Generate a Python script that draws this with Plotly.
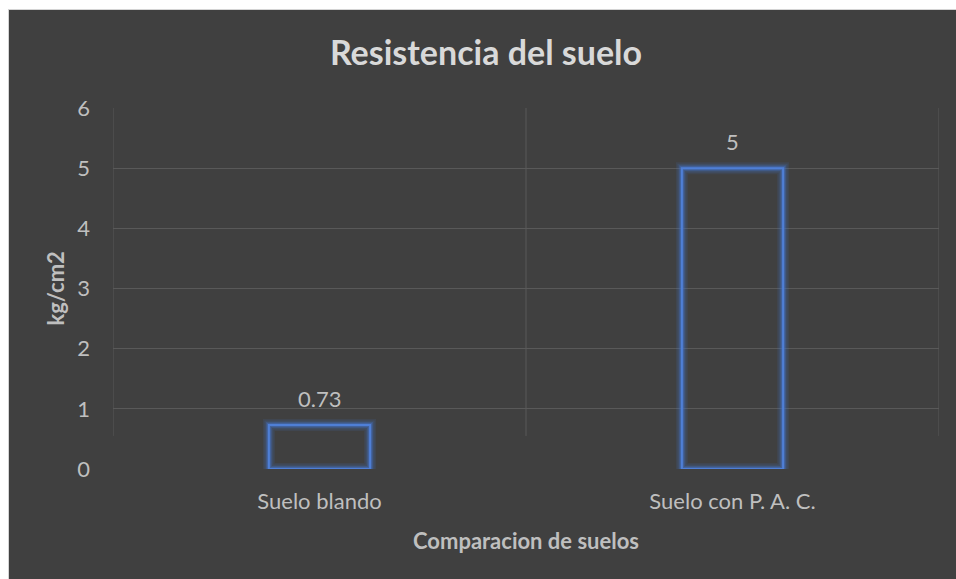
import plotly.graph_objects as go

# Soil bearing resistance, kg/cm2
categories = ["Suelo blando", "Suelo con P. A. C."]
values = [0.73, 5]
value_labels = ["0.73", "5"]
y_ticks = [0, 1, 2, 3, 4, 5, 6]

BG = "#404040"
GRID = "#595959"
TXT = "#bfbfbf"
TITLE_TXT = "#d9d9d9"
BLUE = "#4472c4"
FONT = "Lato"

W, H = 956, 579
L, R, T, B = 113, 17, 108, 110
PW, PH = W - L - R, H - T - B


def px_x(px):
    return (px - L) / PW


def px_y(py):
    return (H - B - py) / PH


fig = go.Figure()

# soft glow around the bar outlines, then the crisp outline on top
glow = [(12, 0.12), (9, 0.18), (6, 0.30), (4, 0.45)]
for width, alpha in glow:
    fig.add_trace(go.Bar(
        x=categories, y=values, width=0.245,
        marker=dict(color="rgba(0,0,0,0)",
                    line=dict(color=f"rgba(68,114,196,{alpha})", width=width)),
        cliponaxis=False, hoverinfo="skip", showlegend=False,
    ))
fig.add_trace(go.Bar(
    x=categories, y=values, width=0.245,
    marker=dict(color="rgba(0,0,0,0)", line=dict(color="#4f7fd6", width=2)),
    cliponaxis=False, showlegend=False,
))

# value labels above each bar
for cat, val, lab in zip(categories, values, value_labels):
    fig.add_annotation(x=cat, y=val, text=lab, showarrow=False,
                       yanchor="bottom", yshift=11,
                       font=dict(family=FONT, size=22, color=TXT))

# axis titles
fig.add_annotation(xref="paper", yref="paper", x=0.5, y=px_y(540),
                   text="<b>Comparacion de suelos</b>", showarrow=False,
                   xanchor="center", yanchor="middle",
                   font=dict(family=FONT, size=22, color=TXT))
fig.add_annotation(xref="paper", yref="paper", x=px_x(55), y=0.5,
                   text="<b>kg/cm2</b>", showarrow=False, textangle=-90,
                   xanchor="center", yanchor="middle",
                   font=dict(family=FONT, size=22, color=TXT))

# dark chart area with a thin light edge, leaving a white strip top-left
shapes = [dict(type="rect", xref="paper", yref="paper", layer="below",
               x0=px_x(8.5), x1=px_x(W + 20), y0=px_y(H + 20), y1=px_y(9.5),
               fillcolor=BG, line=dict(color="#d4d4d4", width=1))]
# category separators
for xb in [-0.5, 0.5, 1.5]:
    shapes.append(dict(type="line", xref="x", yref="y", layer="below",
                       x0=xb, x1=xb, y0=0.55, y1=6,
                       line=dict(color=GRID, width=1)))

fig.update_layout(
    width=W, height=H,
    margin=dict(l=L, r=R, t=T, b=B),
    paper_bgcolor="white",
    plot_bgcolor="rgba(0,0,0,0)",
    barmode="overlay",
    shapes=shapes,
    title=dict(text="<b>Resistencia del suelo</b>", x=486 / W,
               xanchor="center", y=1 - 53 / H, yanchor="middle",
               font=dict(family=FONT, size=34, color=TITLE_TXT)),
    xaxis=dict(range=[-0.5, 1.5], showgrid=False, zeroline=False,
               showline=False, ticks="", ticklabelstandoff=17,
               tickfont=dict(family=FONT, size=22, color=TXT)),
    yaxis=dict(range=[0, 6], tickvals=y_ticks, showgrid=True, gridcolor=GRID,
               gridwidth=1, zeroline=True, zerolinecolor=BG, showline=False,
               ticks="", ticklabelstandoff=22,
               tickfont=dict(family=FONT, size=22, color=TXT)),
)

fig.write_html("out.html")
